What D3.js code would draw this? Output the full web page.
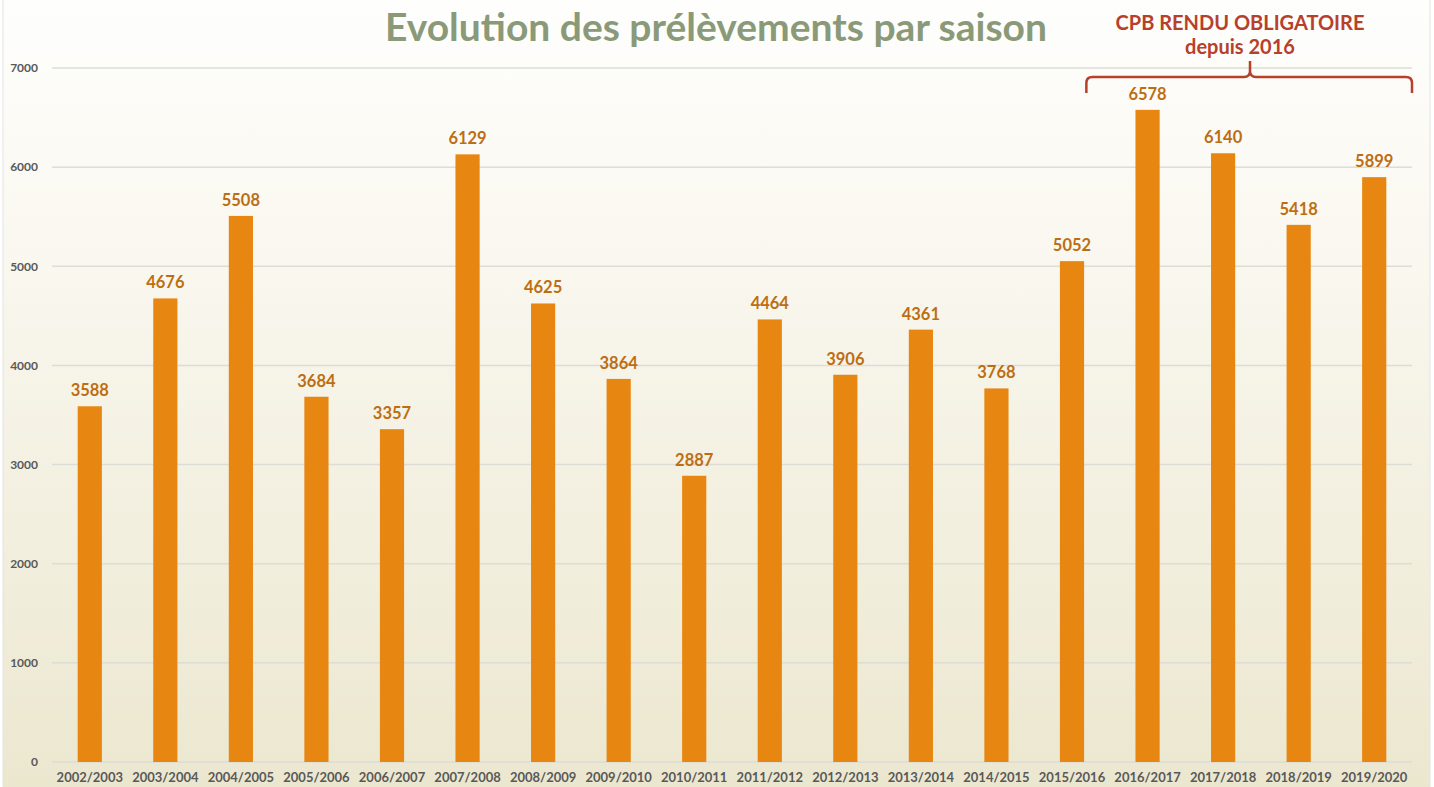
<!DOCTYPE html>
<html><head><meta charset="utf-8">
<script src="https://cdn.jsdelivr.net/npm/d3@7"></script>
<style>body{margin:0;background:#fff}svg{display:block}</style>
</head><body>
<svg id="c" width="1434" height="787"></svg>
<script>
const seasons = ["2002/2003","2003/2004","2004/2005","2005/2006","2006/2007","2007/2008","2008/2009","2009/2010","2010/2011","2011/2012","2012/2013","2013/2014","2014/2015","2015/2016","2016/2017","2017/2018","2018/2019","2019/2020"];
const values = [3588,4676,5508,3684,3357,6129,4625,3864,2887,4464,3906,4361,3768,5052,6578,6140,5418,5899];
const yTicks = [0,1000,2000,3000,4000,5000,6000,7000];
const title = "Evolution des prélèvements par saison";
const noteLines = ["CPB RENDU OBLIGATOIRE","depuis 2016"];
const noteFrom = "2016/2017", noteTo = "2019/2020";

(function(){
const svg = d3.select("#c");
const font = "'Lato','DejaVu Sans',sans-serif";
const defs = svg.append("defs");
const g = defs.append("linearGradient").attr("id","bg").attr("x1",0).attr("y1",0).attr("x2",0).attr("y2",1);
g.append("stop").attr("offset","0%").attr("stop-color","#fefefd");
g.append("stop").attr("offset","35%").attr("stop-color","#f9f7ee");
g.append("stop").attr("offset","100%").attr("stop-color","#ebe7cf");
svg.append("rect").attr("x",3).attr("y",-1).attr("width",1427).attr("height",790)
  .attr("fill","url(#bg)").attr("stroke","#e4e4e0").attr("stroke-width",1);

const L = 52, R = 1412, T = 68, B = 762;
const x = d3.scaleBand().domain(seasons).range([L,R]).paddingInner(0.68).paddingOuter(0.34);
const y = d3.scaleLinear().domain([0,7000]).range([B,T]);

svg.append("g").selectAll("line").data(yTicks).join("line")
  .attr("x1",L).attr("x2",R).attr("y1",d=>y(d)).attr("y2",d=>y(d))
  .attr("stroke","#dedcd6").attr("stroke-width",1.5);

const ya = svg.append("g").attr("transform",`translate(${L},0)`)
  .call(d3.axisLeft(y).tickValues(yTicks).tickSize(0).tickPadding(14).tickFormat(d3.format("d")));
ya.select(".domain").remove();
ya.selectAll("text").attr("font-family",font).attr("font-weight","bold").attr("font-size",12).attr("fill","#595959");

const xa = svg.append("g").attr("transform",`translate(0,${B})`)
  .call(d3.axisBottom(x).tickSize(0).tickPadding(11));
xa.select(".domain").remove();
xa.selectAll("text").attr("font-family",font).attr("font-weight","bold").attr("font-size",13).attr("fill","#595959");

svg.append("g").selectAll("rect").data(values).join("rect")
  .attr("x",(d,i)=>x(seasons[i])).attr("width",x.bandwidth())
  .attr("y",d=>y(d)).attr("height",d=>B-y(d)).attr("fill","#e88612");

svg.append("g").selectAll("text").data(values).join("text")
  .attr("x",(d,i)=>x(seasons[i])+x.bandwidth()/2).attr("y",d=>y(d)-10)
  .attr("text-anchor","middle").attr("font-family",font).attr("font-weight","bold")
  .attr("font-size",16.5).attr("fill","#bd6e12").text(d=>d);

svg.append("text").attr("x",716).attr("y",41).attr("text-anchor","middle")
  .attr("font-family",font).attr("font-weight","bold").attr("font-size",39)
  .attr("fill","#8a9a78").text(title);

const bx0 = x(noteFrom) - 0.65*x.step();
const bx1 = R;
const bmid = 1250;
svg.append("g").selectAll("text").data(noteLines).join("text")
  .attr("x",bmid-10).attr("y",(d,i)=>30+i*24).attr("text-anchor","middle")
  .attr("font-family",font).attr("font-weight","bold").attr("font-size",20)
  .attr("fill","#b7402b").text(d=>d);
const by = 77, r = 6;
const p = `M${bx0},${by+16} L${bx0},${by+r} Q${bx0},${by} ${bx0+r},${by} L${bmid-r},${by} Q${bmid},${by} ${bmid},${by-r} L${bmid},${by-16} M${bmid},${by-r} Q${bmid},${by} ${bmid+r},${by} L${bx1-r},${by} Q${bx1},${by} ${bx1},${by+r} L${bx1},${by+16}`;
svg.append("path").attr("d",p).attr("fill","none").attr("stroke","#b7402b").attr("stroke-width",2.5);
})();
</script>
</body></html>
